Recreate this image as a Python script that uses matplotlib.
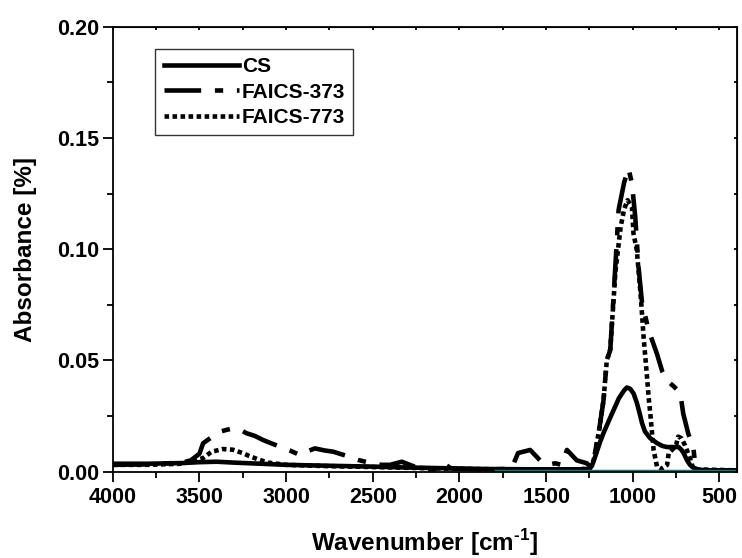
import matplotlib
matplotlib.use("Agg")
import matplotlib.pyplot as plt
from matplotlib.ticker import MultipleLocator, FormatStrFormatter

plt.rcParams['font.family'] = ['Liberation Sans', 'DejaVu Sans']
plt.rcParams['font.weight'] = 'bold'
plt.rcParams['mathtext.fontset'] = 'custom'
plt.rcParams['mathtext.rm'] = 'Liberation Sans:bold'
plt.rcParams['mathtext.bf'] = 'Liberation Sans:bold'

# ---- data ----
cs_w = [4000, 3800, 3600, 3500, 3400, 3300, 3000, 2700, 2500, 2300, 2100, 2000, 1800, 1600, 1400,
        1300, 1250, 1236, 1217, 1190, 1169, 1140, 1111, 1080, 1050, 1034, 1015, 995, 977, 960, 947,
        930, 900, 861, 830, 803, 766, 736, 720, 707, 687, 670, 650, 620, 550, 400]
cs_a = [0.0035, 0.0035, 0.0038, 0.0042, 0.0044, 0.0040, 0.0030, 0.0025, 0.0022, 0.0018, 0.0015,
        0.0013, 0.0011, 0.0010, 0.0010, 0.0010, 0.0012, 0.0025, 0.0067, 0.0130, 0.0173, 0.0225,
        0.0276, 0.0330, 0.0365, 0.0378, 0.0372, 0.0350, 0.0310, 0.0260, 0.0218, 0.0180, 0.0150,
        0.0128, 0.0115, 0.0110, 0.0110, 0.0110, 0.0098, 0.0083, 0.0050, 0.0030, 0.0017, 0.0008,
        0.0005, 0.0005]

f373_w = [4000, 3800, 3600, 3550, 3500, 3479, 3420, 3382, 3340, 3305, 3270, 3228, 3180, 3134, 3080,
          3036, 2980, 2920, 2880, 2834, 2780, 2728, 2650, 2585, 2506, 2450, 2400, 2333, 2270, 2200,
          2130, 2094, 2050, 2000, 1900, 1800, 1700, 1662, 1592, 1535, 1490, 1448, 1410, 1380, 1323,
          1265, 1245, 1226, 1197, 1169, 1150, 1130, 1110, 1082, 1050, 1025, 1005, 986, 967, 947,
          909, 861, 830, 803, 760, 726, 709, 695, 680, 651, 640, 620, 400]
f373_a = [0.0030, 0.0032, 0.0040, 0.0050, 0.0080, 0.0127, 0.0160, 0.0179, 0.0188, 0.0194, 0.0190,
          0.0172, 0.0160, 0.0142, 0.0125, 0.0112, 0.0095, 0.0074, 0.0090, 0.0104, 0.0095, 0.0089,
          0.0070, 0.0052, 0.0037, 0.0030, 0.0030, 0.0044, 0.0025, 0.0008, 0.0010, 0.0037, 0.0015,
          0.0012, 0.0010, 0.0010, 0.0012, 0.0083, 0.0097, 0.0050, 0.0030, 0.0037, 0.0030, 0.0097,
          0.0050, 0.0037, 0.0020, 0.0050, 0.0173, 0.0320, 0.0500, 0.0546, 0.0800, 0.1176, 0.1300,
          0.1363, 0.1296, 0.1146, 0.0920, 0.0760, 0.0636, 0.0530, 0.0450, 0.0410, 0.0380, 0.0353,
          0.0260, 0.0217, 0.0170, 0.0110, 0.0030, 0.0005, 0.0005]

f773_w = [4000, 3800, 3600, 3480, 3430, 3365, 3307, 3248, 3220, 3163, 3105, 3000, 2800, 2500, 2200,
          2000, 1800, 1600, 1400, 1300, 1250, 1226, 1197, 1169, 1150, 1130, 1100, 1070, 1050, 1030,
          1005, 996, 977, 967, 957, 947, 938, 928, 918, 909, 899, 889, 880, 860, 840, 820, 802, 793,
          770, 750, 738, 720, 700, 690, 670, 650, 400]
f773_a = [0.0030, 0.0030, 0.0035, 0.0060, 0.0089, 0.0101, 0.0098, 0.0082, 0.0072, 0.0055, 0.0040,
          0.0030, 0.0025, 0.0020, 0.0015, 0.0012, 0.0010, 0.0010, 0.0010, 0.0010, 0.0015, 0.0050,
          0.0173, 0.0320, 0.0500, 0.0550, 0.0900, 0.1100, 0.1180, 0.1220, 0.1190, 0.1070, 0.0996,
          0.0906, 0.0816, 0.0710, 0.0606, 0.0516, 0.0426, 0.0336, 0.0260, 0.0173, 0.0097, 0.0020,
          0.0010, 0.0020, 0.0030, 0.0083, 0.0100, 0.0120, 0.0157, 0.0150, 0.0120, 0.0100, 0.0060,
          0.0010, 0.0005]

base_w = [1800, 400]
base_a = [0.0003, 0.0003]

labels = ['CS', 'FAICS-373', 'FAICS-773']
x_ticks = [4000, 3500, 3000, 2500, 2000, 1500, 1000, 500]
y_ticks = [0.00, 0.05, 0.10, 0.15, 0.20]

fig = plt.figure(figsize=(7.42, 5.58), dpi=100)
ax = fig.add_axes([0.152, 0.155, 0.841, 0.797])

LW = 3.3
ax.plot(cs_w, cs_a, color='black', lw=LW, ls='-', label=labels[0])
ax.plot(f373_w, f373_a, color='black', lw=LW, ls=(0, (8, 3, 1.8, 3)), label=labels[1])
ax.plot(f773_w, f773_a, color='black', lw=LW, ls=(0, (1, 0.75)), label=labels[2])
ax.plot(base_w, base_a, color='#007f7f', lw=2.5, solid_capstyle='butt')

ax.set_xlim(4000, 400)
ax.set_ylim(0, 0.20)
ax.set_xticks(x_ticks)
ax.set_yticks(y_ticks)
ax.xaxis.set_minor_locator(MultipleLocator(250))
ax.yaxis.set_minor_locator(MultipleLocator(0.025))
ax.yaxis.set_major_formatter(FormatStrFormatter('%.2f'))

for s in ax.spines.values():
    s.set_linewidth(1.3)

ax.tick_params(axis='both', which='major', direction='out', length=7, width=1.3,
               labelsize=15.5, pad=3)
ax.tick_params(axis='both', which='minor', direction='out', length=4, width=1.3)
ax.tick_params(axis='x', which='major', pad=4)

# mirrored inward ticks on top / right
axt = ax.secondary_xaxis('top')
axt.set_xticks(x_ticks)
axt.xaxis.set_minor_locator(MultipleLocator(250))
axt.tick_params(which='both', direction='in', length=2.5, width=1.3, labeltop=False)
axr = ax.secondary_yaxis('right')
axr.set_yticks(y_ticks)
axr.yaxis.set_minor_locator(MultipleLocator(0.025))
axr.tick_params(which='both', direction='in', length=2.5, width=1.3, labelright=False)

ax.set_xlabel(r'Wavenumber [cm$^{\text{-1}}$]', fontsize=17.5, fontweight='bold', labelpad=14)
ax.set_ylabel('Absorbance [%]', fontsize=17.5, fontweight='bold', labelpad=14)

leg = ax.legend(loc='upper left', bbox_to_anchor=(0.068, 0.95), fontsize=15,
                frameon=True, fancybox=False, shadow=False, handlelength=3.6,
                handletextpad=0.15, borderpad=0.4, labelspacing=0.3, borderaxespad=0)
leg.get_frame().set_edgecolor('black')
leg.get_frame().set_linewidth(1.0)

fig.savefig('out.png', dpi=100)
